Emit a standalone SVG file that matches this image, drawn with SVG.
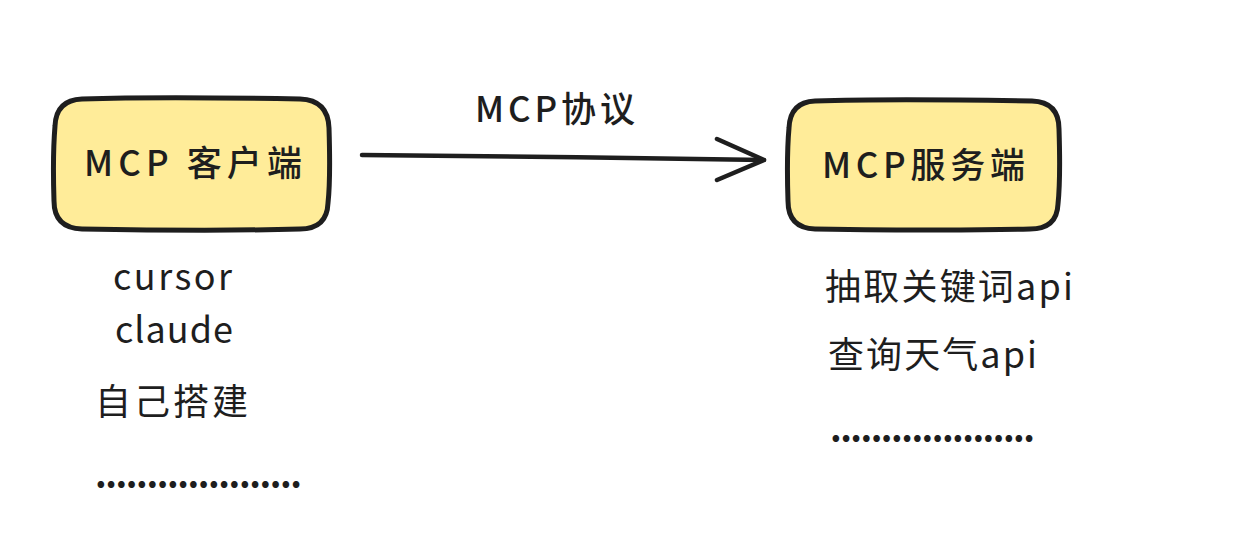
<svg xmlns="http://www.w3.org/2000/svg" width="1233" height="535" viewBox="0 0 1233 535">
<style>
.box{fill:#ffec99;stroke:#1e1e1e;stroke-width:5;stroke-linejoin:round}
.t{font-family:"Noto Sans CJK SC","Noto Sans",sans-serif;fill:#1e1e1e}
.b{font-size:35px;font-weight:500}
.l{font-size:36px}
.d{font-size:36px;font-weight:700}
.conn{fill:none;stroke:#1e1e1e;stroke-width:4.5;stroke-linecap:round;stroke-linejoin:round}
</style>
<rect width="1233" height="535" fill="#ffffff"/>
<g id="client">
<path class="box" d="M82,99 C150,97 240,98 300,99 Q328,100 329,128 C330,160 330,185 328,203 Q327,229 300,229 C230,231 140,230 82,229 Q54,228 54,201 C53,170 53,150 55,126 Q56,100 82,99 Z"/>
<text class="t b" x="84" y="176" textLength="218" lengthAdjust="spacing">MCP 客户端</text>
</g>
<g id="server">
<path class="box" d="M815,101 C880,99 970,100 1032,101 Q1059,102 1059,129 C1060,160 1060,185 1058,204 Q1057,229 1030,229 C960,231 880,230 815,229 Q788,228 788,201 C787,170 787,150 789,128 Q790,102 815,101 Z"/>
<text class="t b" x="822" y="178" textLength="203" lengthAdjust="spacing">MCP服务端</text>
</g>
<g id="connectors">
<path class="conn" d="M362,155 C480,156 640,158 764,160"/>
<path class="conn" d="M717,139 L764,160 L717,180"/>
<text class="t b" x="475" y="122" textLength="160" lengthAdjust="spacing">MCP协议</text>
</g>
<g id="client-list">
<text class="t l" x="113" y="290" textLength="119" lengthAdjust="spacing">cursor</text>
<text class="t l" x="115" y="343" textLength="118" lengthAdjust="spacing">claude</text>
<text class="t l" x="95" y="415" textLength="153" lengthAdjust="spacing">自己搭建</text>
<text class="t d" x="95" y="488" textLength="207" lengthAdjust="spacing">....................</text>
</g>
<g id="server-list">
<text class="t l" x="825" y="300" textLength="248" lengthAdjust="spacing">抽取关键词api</text>
<text class="t l" x="828" y="368" textLength="209" lengthAdjust="spacing">查询天气api</text>
<text class="t d" x="830" y="442" textLength="205" lengthAdjust="spacing">....................</text>
</g>
</svg>
